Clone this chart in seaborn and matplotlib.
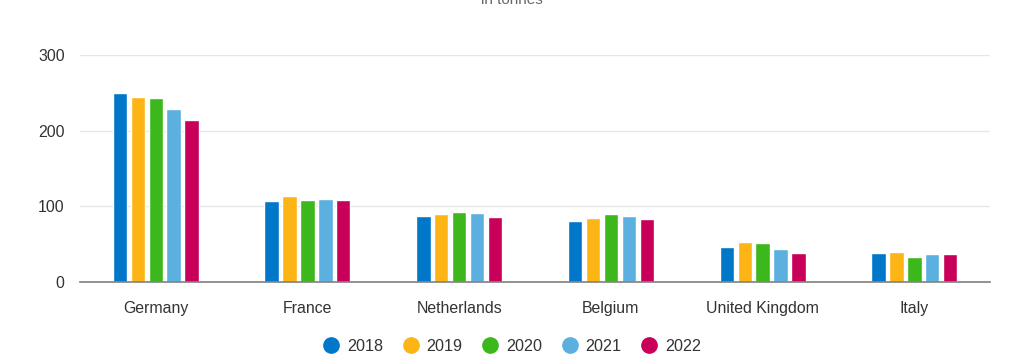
import pandas as pd
import seaborn as sns
import matplotlib.pyplot as plt
from matplotlib.lines import Line2D

countries = ["Germany", "France", "Netherlands", "Belgium", "United Kingdom", "Italy"]
years = ["2018", "2019", "2020", "2021", "2022"]
v2018 = [250, 107, 87, 80, 46, 38]
v2019 = [245, 114, 90, 84, 53, 40]
v2020 = [243, 109, 93, 90, 52, 33]
v2021 = [229, 110, 91, 87, 43, 37]
v2022 = [214, 109, 86, 83, 38, 37]
colors = ["#0077c8", "#fdb515", "#3cb81c", "#5bb0e0", "#c8005a"]

rows = []
for year, vals in zip(years, [v2018, v2019, v2020, v2021, v2022]):
    for c, v in zip(countries, vals):
        rows.append({"country": c, "year": year, "value": v})
df = pd.DataFrame(rows)

sns.set_style("white")
plt.rcParams["font.family"] = ["Liberation Sans", "DejaVu Sans"]

fig = plt.figure(figsize=(10.24, 3.6), dpi=100)
ax = fig.add_axes([0.078, 0.2167, 0.889, 0.6306])
sns.barplot(data=df, x="country", y="value", hue="year", palette=colors,
            width=0.59, gap=0.2, ax=ax, legend=False, saturation=1)

ax.set_ylim(0, 300)
ax.set_xlim(-0.5, 5.5)
ax.set_yticks([0, 100, 200, 300])
ax.yaxis.grid(True, color="#e6e6e6", linewidth=1)
ax.set_axisbelow(True)
for s in ["top", "right", "left"]:
    ax.spines[s].set_visible(False)
ax.spines["bottom"].set_color("#808080")
ax.spines["bottom"].set_linewidth(1.2)
ax.tick_params(axis="both", length=0, labelsize=11.4, colors="#333333")
ax.tick_params(axis="x", pad=14)
ax.tick_params(axis="y", pad=11)
ax.set_xlabel("")
ax.set_ylabel("")

fig.text(0.5, 1.0, "in tonnes", ha="center", va="center", fontsize=11, color="#666666")

handles = [Line2D([], [], marker="o", linestyle="", markersize=11,
                  markerfacecolor=c, markeredgecolor=c) for c in colors]
fig.legend(handles, years, loc="center", bbox_to_anchor=(0.5, 0.038), ncol=5,
           frameon=False, fontsize=11.6, handlelength=1.0, handletextpad=0.5,
           columnspacing=1.2, labelcolor="#333333")

fig.savefig("out.png", dpi=100)
